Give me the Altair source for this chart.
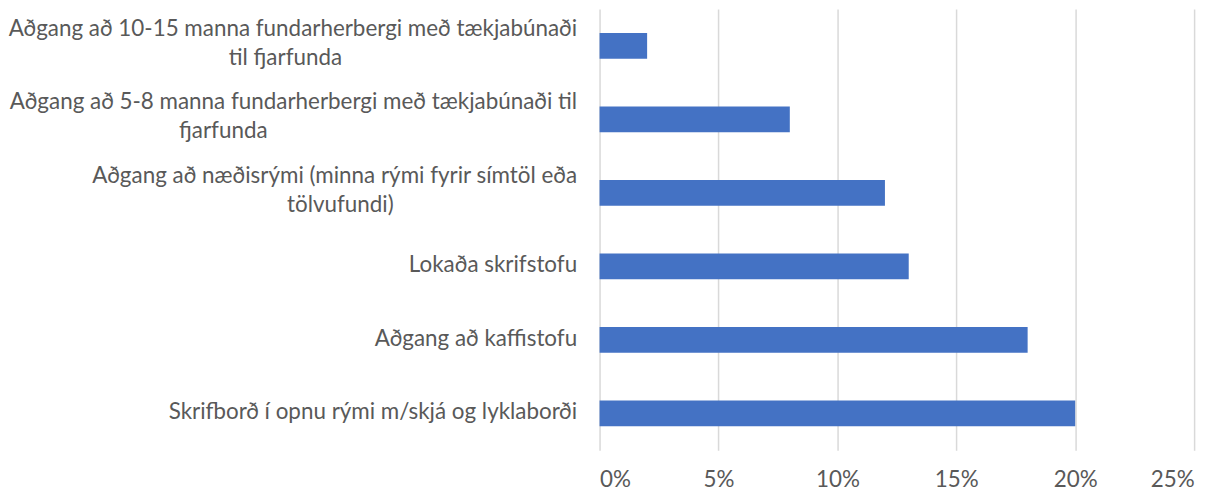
import altair as alt
import pandas as pd

# ---- data ----
categories = [
    "Aðgang að 10-15 manna fundarherbergi með tækjabúnaði\ntil fjarfunda",
    "Aðgang að 5-8 manna fundarherbergi með tækjabúnaði til\nfjarfunda",
    "Aðgang að næðisrými (minna rými fyrir símtöl eða\ntölvufundi)",
    "Lokaða skrifstofu",
    "Aðgang að kaffistofu",
    "Skrifborð í opnu rými m/skjá og lyklaborði",
]
values = [0.02, 0.08, 0.12, 0.13, 0.18, 0.20]
x_ticks = [0, 0.05, 0.10, 0.15, 0.20, 0.25]

# trailing no-break spaces (closed by a word joiner so they are not dropped)
# so a wrapped second line sits centred under the first one, as Excel does
LINE2_PAD = [41, 54, 32, 0, 0, 0]


def display_label(label, pad):
    return label + "\u00a0" * pad + "\u2060" if "\n" in label else label


labels = [display_label(c, p) for c, p in zip(categories, LINE2_PAD)]
df = pd.DataFrame({"category": labels, "value": values})

FONT = "Lato"
TEXT = "#595959"
FS = 22.5
LINE_H = 29

chart = (
    alt.Chart(df)
    .mark_bar(color="#4472C4")
    .encode(
        x=alt.X(
            "value:Q",
            scale=alt.Scale(domain=[0, 0.25], nice=False, zero=True),
            axis=alt.Axis(
                values=x_ticks,
                format=".0%",
                title="",
                grid=True,
                gridColor="#d9d9d9",
                gridWidth=1.5,
                domain=False,
                ticks=False,
                tickSize=0,
                labelPadding=18,
                labelFont=FONT,
                labelFontSize=FS,
                labelColor=TEXT,
            ),
        ),
        y=alt.Y(
            "category:N",
            sort=labels,
            scale=alt.Scale(paddingInner=0.65, paddingOuter=0.325),
            axis=alt.Axis(
                title="",
                domain=False,
                ticks=False,
                tickSize=0,
                grid=False,
                labelExpr="split(datum.label, '\\n')",
                labelAlign="right",
                labelBaseline="middle",
                labelLineHeight=LINE_H,
                # centre two-line labels on their bar
                labelOffset={
                    "condition": {
                        "test": "indexof(datum.label, '\\n') >= 0",
                        "value": -17,
                    },
                    "value": -1,
                },
                labelPadding=23,
                labelLimit=900,
                labelFont=FONT,
                labelFontSize=FS,
                labelColor=TEXT,
            ),
        ),
    )
    .properties(
        width=597,
        height=443,
        autosize=alt.AutoSizeParams(type="none"),
        padding={"left": 594, "top": 0, "right": 25, "bottom": 41},
    )
    .configure_view(stroke="transparent")
)

chart.save("out.html", embed_options={"renderer": "svg", "actions": False})
